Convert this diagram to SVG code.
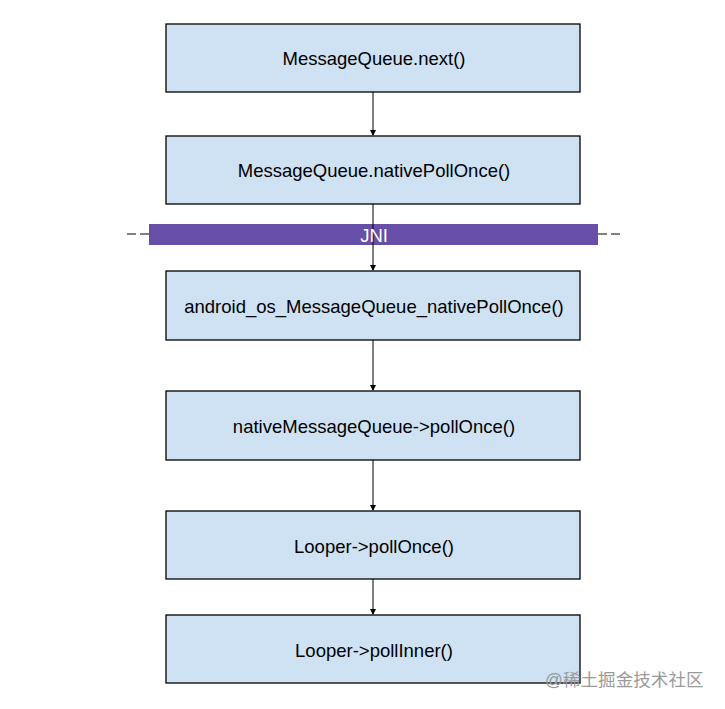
<svg xmlns="http://www.w3.org/2000/svg" width="725" height="709" viewBox="0 0 725 709">
<style>
.box{fill:#cfe2f3;stroke:#000;stroke-width:1.3}
.lbl{font-family:"Liberation Sans",Arial,sans-serif;font-size:18.5px;fill:#000;text-anchor:middle;dominant-baseline:central}
.conn{stroke:#000;stroke-width:1;fill:none;marker-end:url(#ah)}
.wm{font-family:"Liberation Sans","Noto Sans CJK SC",sans-serif;font-size:17.6px;fill:#9a9a9a}
</style>
<defs>
<marker id="ah" markerWidth="6" markerHeight="6" refX="5" refY="3" orient="auto" markerUnits="userSpaceOnUse">
<path d="M0,0 L6,3 L0,6 z" fill="#000"/>
</marker>
</defs>
<rect width="725" height="709" fill="#fff"/>
<g id="connectors">
<line class="conn" x1="373" y1="92" x2="373" y2="135"/>
<line class="conn" x1="373" y1="204" x2="373" y2="270"/>
<line class="conn" x1="373" y1="340" x2="373" y2="390"/>
<line class="conn" x1="373" y1="460" x2="373" y2="510"/>
<line class="conn" x1="373" y1="579" x2="373" y2="614"/>
</g>
<g id="jni">
<line x1="127" y1="234" x2="149" y2="234" stroke="#000" stroke-width="1" stroke-dasharray="9,4"/>
<line x1="598" y1="234" x2="620" y2="234" stroke="#000" stroke-width="1" stroke-dasharray="9,4"/>
<rect x="149" y="224" width="449" height="21" fill="#674ea7"/>
<line x1="373" y1="224" x2="373" y2="245" stroke="#000" stroke-width="1"/>
<text x="374" y="235" class="lbl" style="fill:#fff">JNI</text>
</g>
<g id="n1"><rect class="box" x="166" y="24" width="414" height="68"/><text class="lbl" x="374" y="58">MessageQueue.next()</text></g>
<g id="n2"><rect class="box" x="166" y="136" width="414" height="68"/><text class="lbl" x="374" y="170">MessageQueue.nativePollOnce()</text></g>
<g id="n3"><rect class="box" x="166" y="271" width="414" height="69"/><text class="lbl" x="374" y="306">android_os_MessageQueue_nativePollOnce()</text></g>
<g id="n4"><rect class="box" x="166" y="391" width="414" height="69"/><text class="lbl" x="374" y="426">nativeMessageQueue-&gt;pollOnce()</text></g>
<g id="n5"><rect class="box" x="166" y="511" width="414" height="68"/><text class="lbl" x="374" y="546">Looper-&gt;pollOnce()</text></g>
<g id="n6"><rect class="box" x="166" y="615" width="414" height="68"/><text class="lbl" x="374" y="650">Looper-&gt;pollInner()</text></g>
<text class="wm" x="545" y="686">@稀土掘金技术社区</text>
</svg>
